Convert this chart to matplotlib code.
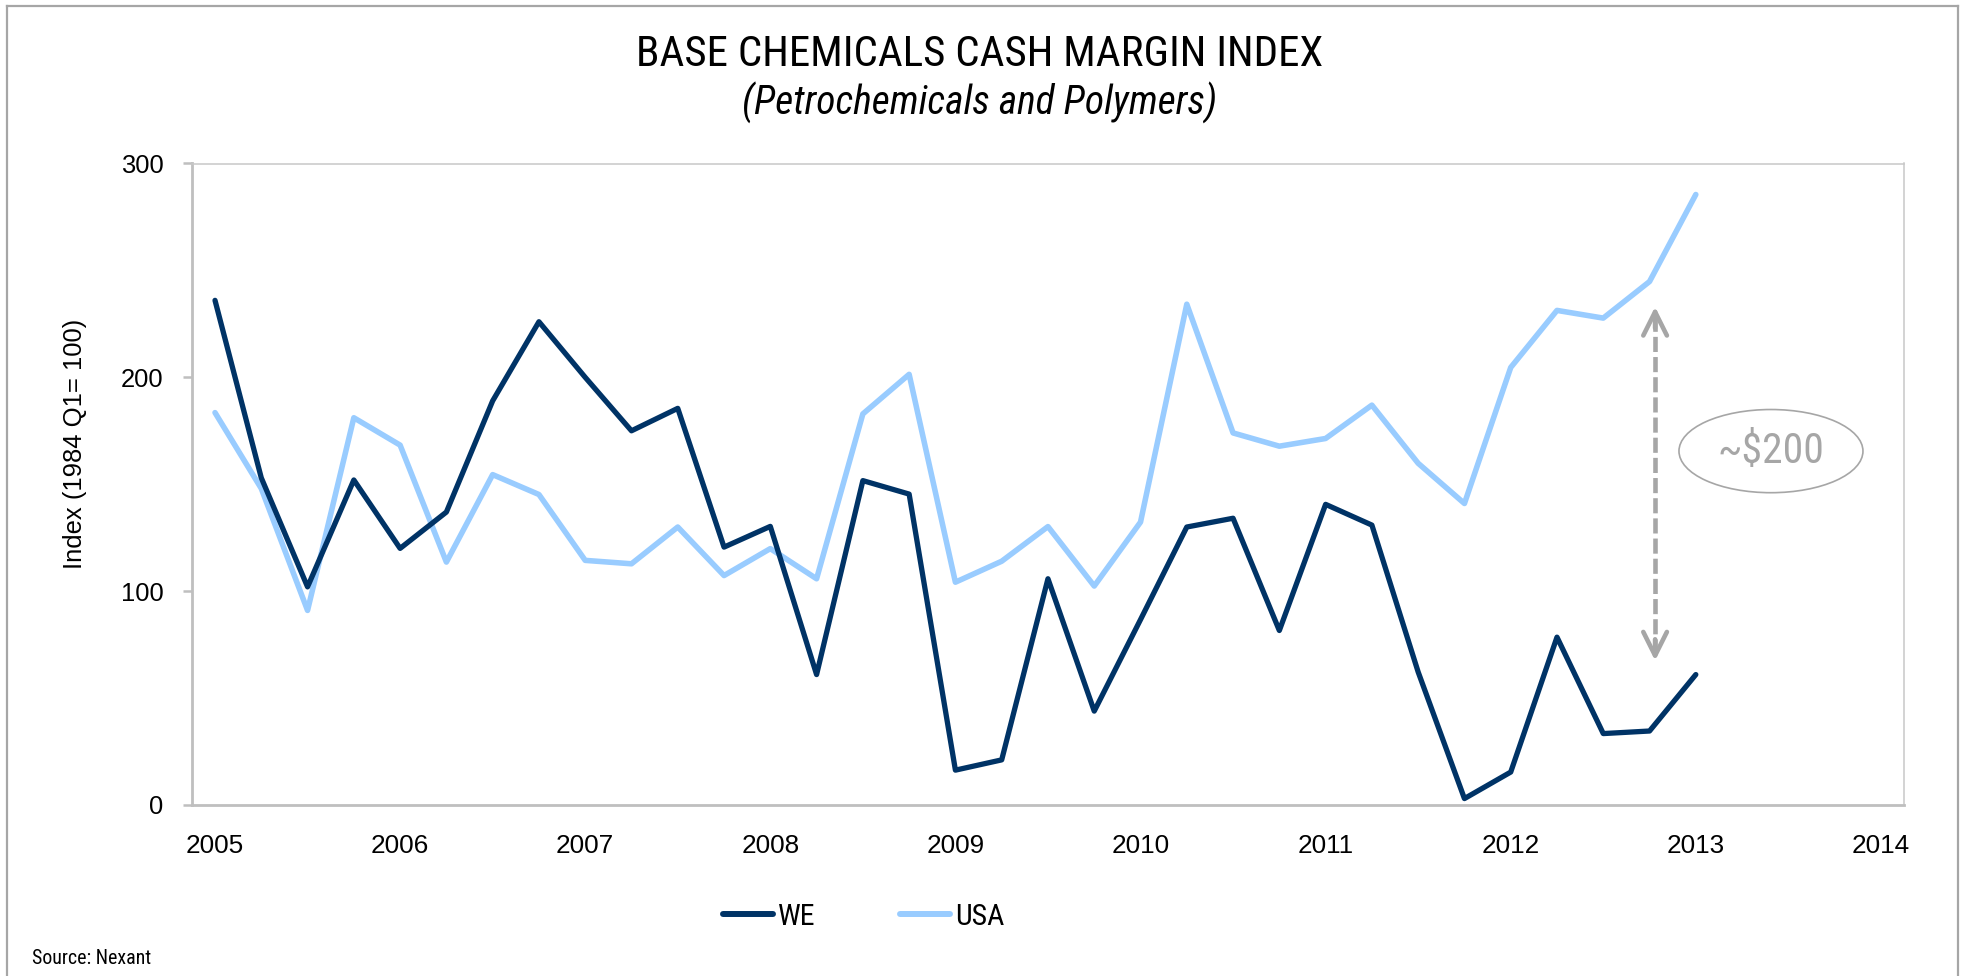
import matplotlib
matplotlib.use("Agg")
import matplotlib.pyplot as plt
from matplotlib import font_manager as fm
from matplotlib.patches import Ellipse
from matplotlib.lines import Line2D

# ---------------- data ----------------
quarters = ["2005Q1", "2005Q2", "2005Q3", "2005Q4",
            "2006Q1", "2006Q2", "2006Q3", "2006Q4",
            "2007Q1", "2007Q2", "2007Q3", "2007Q4",
            "2008Q1", "2008Q2", "2008Q3", "2008Q4",
            "2009Q1", "2009Q2", "2009Q3", "2009Q4",
            "2010Q1", "2010Q2", "2010Q3", "2010Q4",
            "2011Q1", "2011Q2", "2011Q3", "2011Q4",
            "2012Q1", "2012Q2", "2012Q3", "2012Q4",
            "2013Q1"]
we = [236, 153, 102, 152, 120, 137, 189, 226,
      200, 175, 185.5, 120.6, 130.3, 61, 151.7, 145.4,
      16.3, 21.1, 105.8, 43.9, 86.7, 130, 134.1, 81.6,
      140.6, 130.9, 62.2, 3, 15.4, 78.5, 33.4, 34.6,
      61]
usa = [183.5, 148, 91, 181.1, 168.3, 113.6, 154.5, 145.2,
       114.4, 112.8, 130, 107.3, 119.9, 105.8, 182.9, 201.4,
       104.2, 114, 130.2, 102.4, 132.3, 234.2, 174, 167.8,
       171.4, 187, 159.8, 141, 204.6, 231.3, 227.7, 244.8,
       285.5]
year_ticks = [2005, 2006, 2007, 2008, 2009, 2010, 2011, 2012, 2013, 2014]
y_ticks = [0, 100, 200, 300]
series_names = ["WE", "USA"]
gap_label = "~\\$200"
gap_top, gap_bottom = 233, 67.5

# positions of quarters on the year axis
xq = [int(q[:4]) + (int(q[-1]) - 1) / 4 for q in quarters]

# ---------------- fonts ----------------
avail = {f.name for f in fm.fontManager.ttflist}
REG = "Liberation Sans" if "Liberation Sans" in avail else "DejaVu Sans"
NARROW = REG
for cand in ["Liberation Sans Narrow", "Arial Narrow", "Roboto Condensed",
             "Archivo Narrow", "PT Sans Narrow", "Open Sans Condensed"]:
    if cand in avail:
        NARROW = cand
        break
plt.rcParams["font.family"] = REG

W, H, DPI = 1961, 976, 100
fig = plt.figure(figsize=(W / DPI, H / DPI), dpi=DPI)
renderer = fig.canvas.get_renderer()


def fx(px):
    return px / W


def fy(py):
    return 1 - py / H


def text_width(text, size, **kw):
    t = fig.text(0, 0, text, fontsize=size, **kw)
    w = t.get_window_extent(renderer).width
    t.remove()
    return w


def fit(text, target_px, **kw):
    return 20 * target_px / text_width(text, 20, **kw)


DARK = "#003366"
LIGHT = "#99CCFF"
GRAY = "#A6A6A6"
AXC = "#BFBFBF"

ax = fig.add_axes([fx(192), fy(805), fx(1903.5) - fx(192), fy(163.5) - fy(805)])
ax.plot(xq, usa, color=LIGHT, lw=4.0, solid_capstyle="round", zorder=2)
ax.plot(xq, we, color=DARK, lw=3.8, solid_capstyle="round", zorder=3)

ax.set_xlim(2004.8757, 2014.122)
ax.set_ylim(0, 300)
ax.set_xticks(year_ticks)
ax.set_xticklabels([str(y) for y in year_ticks])
ax.set_yticks(y_ticks)
ax.tick_params(axis="x", length=0, pad=21, labelsize=18.8)
ax.tick_params(axis="y", length=6.5, width=1.8, color=AXC, pad=14,
               labelsize=18.4, direction="out")
for s in ["left", "bottom"]:
    ax.spines[s].set_color(AXC)
    ax.spines[s].set_linewidth(2.0)
for s in ["top", "right"]:
    ax.spines[s].set_color("#C8C8C8")
    ax.spines[s].set_linewidth(1.1)

# gap annotation
ax_x = 2012.78
ax.plot([ax_x, ax_x], [gap_bottom + 3, gap_top - 3], color=GRAY, lw=3.3,
        ls=(0, (3.3, 1.1)), dash_capstyle="butt", zorder=4)
for tip, tail in [(gap_top, gap_top - 10), (gap_bottom, gap_bottom + 10)]:
    ax.annotate("", xy=(ax_x, tip), xytext=(ax_x, tail),
                arrowprops=dict(arrowstyle="->,head_length=1.7,head_width=0.85",
                                color=GRAY, lw=3.3, shrinkA=0, shrinkB=0,
                                capstyle="round", joinstyle="round"),
                zorder=4)
ell_x, ell_y = 2013.406, 165.5
ax.add_patch(Ellipse((ell_x, ell_y), width=0.994, height=38.9, fill=False,
                     edgecolor=GRAY, lw=1.2, clip_on=False, zorder=4))
ax.text(ell_x, ell_y, gap_label, ha="center", va="center",
        fontsize=fit(gap_label, 107, family=NARROW), family=NARROW,
        color=GRAY, zorder=5)

# titles & labels
title = "BASE CHEMICALS CASH MARGIN INDEX"
subtitle = "(Petrochemicals and Polymers)"
ylab = "Index (1984 Q1= 100)"
source = "Source: Nexant"
fig.text(0.4997, fy(66), title, ha="center", va="baseline",
         fontsize=fit(title, 685, family=NARROW), family=NARROW)
fig.text(0.4997, fy(115), subtitle, ha="center", va="baseline",
         fontsize=fit(subtitle, 475, family=NARROW, style="italic"),
         family=NARROW, style="italic")
fig.text(fx(75), fy(444), ylab, rotation=90, ha="center", va="center",
         fontsize=fit(ylab, 251, family=REG), family=REG)
fig.text(fx(31.7), fy(964.3), source, ha="left", va="baseline",
         fontsize=fit(source, 119, family=NARROW), family=NARROW)

# legend
leg_size = fit("WE", 37.5, family=NARROW)
leg_px = leg_size * DPI / 72
we_px = text_width("WE", leg_size, family=NARROW)
hl = 50 / leg_px
htp = 5 / leg_px
col_px = 900 - (723 + 50 + 5 + we_px)
handles = [Line2D([], [], color=DARK, lw=4.3, solid_capstyle="round"),
           Line2D([], [], color=LIGHT, lw=4.3, solid_capstyle="round")]
fig.legend(handles, series_names, loc="center left",
           bbox_to_anchor=(fx(723), fy(916.7)), ncol=2, frameon=False,
           prop=dict(family=NARROW, size=leg_size), handlelength=hl,
           handletextpad=htp, columnspacing=col_px / leg_px,
           borderpad=0, borderaxespad=0)

# outer frame
for xs, ys in [([7, 7], [976, 6]), ([7, 1958], [6, 6]), ([1958, 1958], [6, 976])]:
    fig.add_artist(Line2D([fx(v) for v in xs], [fy(v) for v in ys],
                          transform=fig.transFigure, color=GRAY, lw=1.6))

fig.savefig("out.png", dpi=DPI)
